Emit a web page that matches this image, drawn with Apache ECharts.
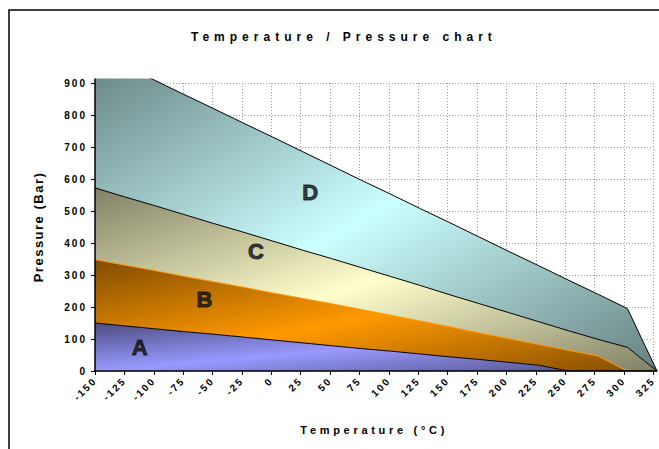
<!DOCTYPE html>
<html><head><meta charset="utf-8">
<script src="https://cdn.jsdelivr.net/npm/echarts@6/dist/echarts.min.js"></script>
<style>
html,body{margin:0;padding:0;background:#fff;overflow:hidden}
#c{width:659px;height:449px}
svg text[style*="12px"]{letter-spacing:5px}
svg text[style*="11px"]{letter-spacing:3.7px}
svg text[style*="13px"]{letter-spacing:1.5px}
svg text[style*="10px"]{letter-spacing:2px}
</style></head><body><div id="c"></div>
<script>
// Temperature categories (°C)
const temps = [-150,-125,-100,-75,-50,-25,0,25,50,75,100,125,150,175,200,225,250,275,300,325];
// Upper boundary (Bar) of each region
const lineA = [150,141,132,123,115,106,97,88,79,70,62,53,44,36,27,18,0,0,0,0];
const lineB = [348,331,314,296,279,262,244,227,210,192,174,156,138,119,101,83,65,47,0,0];
const lineC = [572,544,517,489,461,434,406,378,351,323,295,267,238,210,182,154,126,99,74,0];
const lineD = [998,954,909,864,820,775,731,686,641,596,552,507,463,418,373,329,284,240,195,0];
const regionNames = ['A','B','C','D'];
const regionLabelAt = [[-112,75],[-57,222],[-13,372],[33,559]];

const bounds = [lineA, lineB, lineC, lineD];
const darks = ['#4c4c80','#804c00','#808066','#668080'];
const lights = ['#9999ff','#ff9900','#ffffcc','#ccffff'];
const lineColors = ['#000','#ff9900','#000','#000'];

const chart = echarts.init(document.getElementById('c'), null, {renderer:'svg'});
const font = 'Arial, "Liberation Sans", sans-serif';

const series = bounds.map((b, i) => ({
  type: 'line',
  name: regionNames[i],
  xAxisIndex: 1, yAxisIndex: 1,
  stack: 'p',
  symbol: 'none',
  z: 5 - i,
  lineStyle: {color: lineColors[i], width: 1},
  areaStyle: {
    opacity: 1,
    color: new echarts.graphic.LinearGradient(0,0,1,1,[
      {offset:0,color:darks[i]},{offset:0.5,color:lights[i]},{offset:1,color:darks[i]}
    ])
  },
  data: b.map((v, k) => v - (i ? bounds[i-1][k] : 0))
}));
series.push({
  type: 'scatter',
  xAxisIndex: 0, yAxisIndex: 0,
  symbolSize: 1,
  itemStyle: {color: 'rgba(0,0,0,0)'},
  z: 20,
  label: {show: true, position: 'inside', formatter: p => p.name,
    fontSize: 22, fontWeight: 'bold', fontFamily: font, color: '#111',
    textBorderColor: '#111', textBorderWidth: 1},
  data: regionNames.map((n, i) => ({name: n, value: regionLabelAt[i]}))
});

chart.setOption({
  animation: false,
  title: {
    text: 'Temperature / Pressure chart',
    left: 186, top: 26,
    textStyle: {fontSize: 12, fontWeight: 'bold', fontFamily: font, color: '#000'}
  },
  graphic: [{
    type: 'rect', shape: {x: 9, y: 10, width: 800, height: 800},
    style: {fill: 'none', stroke: '#000', lineWidth: 1.5}, z: 100
  }],
  grid: [
    {left: 95, right: 2, top: 83, bottom: 78},
    {left: 95, right: 2, top: 79, bottom: 78}
  ],
  xAxis: [{
    gridIndex: 0, type: 'value', min: -150, max: 325, interval: 25,
    axisLine: {show: false, onZero: false},
    axisTick: {show: true, length: 4, lineStyle: {color: '#000'}},
    axisLabel: {rotate: 45, margin: 8, fontSize: 10, fontWeight: 'bold', fontFamily: font, color: '#000'},
    splitLine: {show: true, lineStyle: {color: '#999', type: [1,2], width: 1}},
    name: 'Temperature (°C)', nameLocation: 'middle', nameGap: 53,
    nameTextStyle: {fontSize: 11, fontWeight: 'bold', fontFamily: font, color: '#000'}
  }, {
    gridIndex: 1, type: 'category', boundaryGap: false, data: temps, z: 10,
    axisLine: {show: true, onZero: false, lineStyle: {color: '#000', width: 1.5}},
    axisTick: {show: false}, axisLabel: {show: false}, splitLine: {show: false}
  }],
  yAxis: [{
    gridIndex: 0, type: 'value', min: 0, max: 900, interval: 100,
    axisLine: {show: false, onZero: false},
    axisTick: {show: true, length: 4, lineStyle: {color: '#000'}},
    axisLabel: {margin: 8, fontSize: 10, fontWeight: 'bold', fontFamily: font, color: '#000'},
    splitLine: {show: true, lineStyle: {color: '#999', type: [1,2], width: 1}},
    name: 'Pressure (Bar)', nameLocation: 'middle', nameGap: 50, nameRotate: 90,
    nameTextStyle: {fontSize: 13, fontWeight: 'bold', fontFamily: font, color: '#000'}
  }, {
    gridIndex: 1, type: 'value', min: 0, max: 912, z: 10,
    axisLine: {show: true, onZero: false, lineStyle: {color: '#000', width: 1.5}},
    axisTick: {show: false}, axisLabel: {show: false}, splitLine: {show: false}
  }],
  series: series
});
</script></body></html>
